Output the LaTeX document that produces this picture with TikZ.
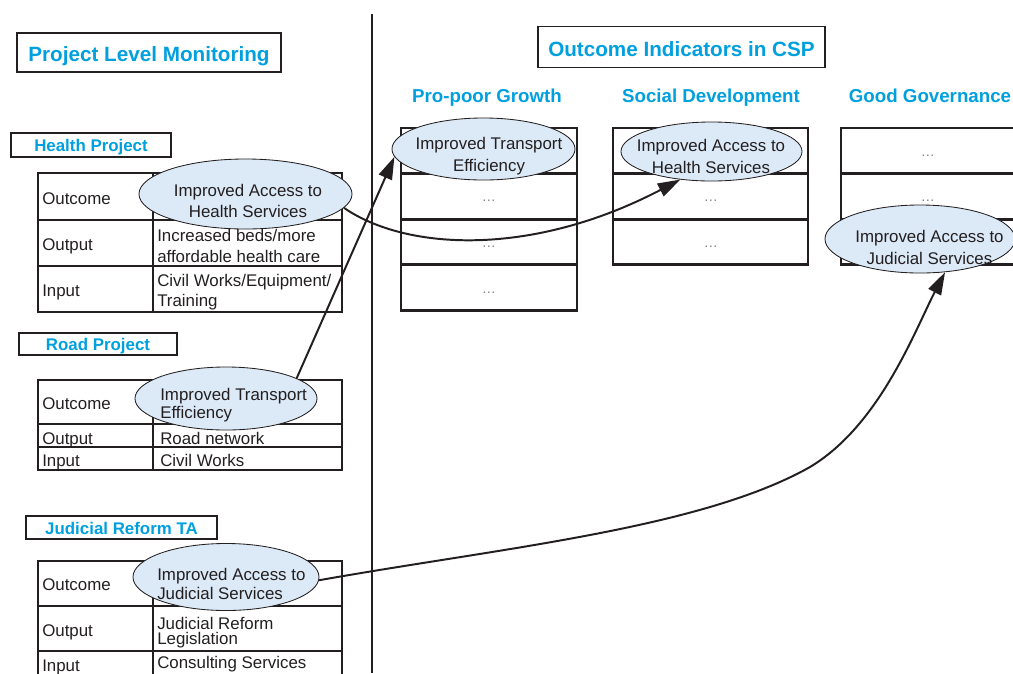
\documentclass[tikz,border=0pt]{standalone}
\usepackage{fontspec}
\setmainfont{Liberation Sans}
\usetikzlibrary{arrows.meta,shapes.geometric}
\definecolor{cspblue}{RGB}{0,160,223}
\definecolor{bubblefill}{RGB}{220,233,247}
\definecolor{ink}{RGB}{35,31,32}

\begin{document}
\begin{tikzpicture}[x=0.025cm,y=-0.025cm,
    grid/.style={draw=ink,line width=1.9pt},
    heading/.style={draw=ink,line width=1.3pt,text=cspblue,inner sep=0pt,
      text height=13pt,text depth=0pt,font=\bfseries\fontsize{14.7}{17}\selectfont},
    project/.style={heading,text height=9.5pt,font=\bfseries\fontsize{12}{14}\selectfont},
    column/.style={anchor=base,text=cspblue,font=\bfseries\fontsize{13.3}{16}\selectfont},
    cell/.style={anchor=west,align=left,inner sep=0pt,text=ink,
      font=\fontsize{12}{14.5}\selectfont},
    pending/.style={text=gray,font=\fontsize{10}{12}\selectfont},
    bubble/.style 2 args={ellipse,draw=ink,line width=0.6pt,fill=bubblefill,
      minimum width=#1,minimum height=#2,inner sep=0pt},
    say/.style={inner sep=0pt,text=ink,font=\fontsize{12}{#1}\selectfont},
    link/.style={draw=ink,line width=1.4pt,-{Triangle[length=16pt,width=10pt]}}
  ]
  \useasboundingbox (0,0) rectangle (1013,673);
  \clip (0,0) rectangle (1013,673);

  % two halves
  \draw[ink,line width=1.4pt] (372,14) -- (372,673);
  \node[heading,minimum width=6.6cm,minimum height=0.975cm] (plm) at (149,52.5) {Project Level Monitoring};
  \node[heading,minimum width=7.175cm,minimum height=1.025cm] (csp) at (681.5,47) {Outcome Indicators in CSP};

  % CSP columns
  \node[column] (growth) at (487,102) {Pro-poor Growth};
  \node[column] (social) at (711,102) {Social Development};
  \node[column] (govern) at (930,102) {Good Governance};
  \foreach \xa/\xb/\n in {401/577/4,613/808/3,841/1020/3}
    \foreach \r in {1,...,\n}
      \draw[grid] (\xa,{82.4+\r*45.6}) rectangle (\xb,{128+\r*45.6});
  \foreach \xm/\r [count=\k] in {489/2,489/3,489/4,711/2,711/3,928/1,928/2}
    \node[pending] (d\k) at (\xm,{110+\r*45.6}) {\dots};

  % health project
  \node[project,minimum width=4cm,minimum height=0.6cm] (hp) at (91,145) {Health Project};
  \foreach \ya/\yb in {173/220,220/266,266/312}
    \draw[grid] (38,\ya) rectangle (153,\yb) (153,\ya) rectangle (342,\yb);
  \node[cell] (ho) at (42,199) {Outcome};
  \node[cell] (hu) at (42,246.5) {Output};
  \node[cell] (hi) at (42,292.5) {Input};
  \node[cell,font=\fontsize{12}{14.7}\selectfont] (hu2) at (157,246) {Increased beds/more\\affordable health care};
  \node[cell,font=\fontsize{12}{14.2}\selectfont] (hi2) at (157,292) {Civil Works/Equipment/\\Training};
  \node[bubble={5.325cm}{1.75cm}] (hea) at (245.5,194) {};
  \node[say=15pt,align=center] (heat) at (248,201) {Improved Access to\\Health Services};

  % road project
  \node[project,minimum width=3.95cm,minimum height=0.55cm] (rp) at (98,344) {Road Project};
  \foreach \ya/\yb in {380/424,424/447,447/470}
    \draw[grid] (38,\ya) rectangle (153,\yb) (153,\ya) rectangle (342,\yb);
  \node[cell] (ro) at (42,404) {Outcome};
  \node[cell] (ru) at (42,440) {Output};
  \node[cell] (ri) at (42,462) {Input};
  \node[cell] (ru2) at (160,438) {Road network};
  \node[cell] (ri2) at (160,460.5) {Civil Works};
  \node[bubble={4.55cm}{1.575cm}] (road) at (226,398.5) {};
  \node[say=12.8pt,align=left,anchor=west] (roadt) at (160,405) {Improved Transport\\Efficiency};

  % judicial reform TA
  \node[project,minimum width=4.775cm,minimum height=0.575cm] (jp) at (121.5,527.5) {Judicial Reform TA};
  \foreach \ya/\yb in {561/606,606/651,651/697}
    \draw[grid] (38,\ya) rectangle (153,\yb) (153,\ya) rectangle (342,\yb);
  \node[cell] (jo) at (42,584.5) {Outcome};
  \node[cell] (ju) at (42,632.5) {Output};
  \node[cell] (ji) at (42,667.5) {Input};
  \node[cell,font=\fontsize{12}{10.5}\selectfont] (ju2) at (157,632.5) {Judicial Reform\\Legislation};
  \node[cell] (ji2) at (157,664) {Consulting Services};
  \node[bubble={4.65cm}{1.675cm}] (jud) at (226,577) {};
  \node[say=13.5pt,align=left,anchor=west] (judt) at (157,584) {Improved Access to\\Judicial Services};

  % outcomes as they appear in the CSP
  \node[bubble={4.575cm}{1.55cm}] (pro) at (483.5,149) {};
  \node[say=15.6pt,align=center] (prot) at (489,156) {Improved Transport\\Efficiency};
  \node[bubble={4.525cm}{1.475cm}] (soc) at (711.5,151.5) {};
  \node[say=15.6pt,align=center] (soct) at (711,156) {Improved Access to\\Health Services};
  \node[bubble={4.75cm}{1.7cm}] (gov) at (920,239) {};
  \node[say=15.6pt,align=center] (govt) at (929.5,247) {Improved Access to\\Judicial Services};

  \draw[link] (road.16) -- (pro.185);
  \draw[link] (hea.-8) .. controls (405,250) and (530,258) .. (soc.222);
  \draw[link] (jud.-2) .. controls (500,548) and (700,529) .. (810,467)
    .. controls (880,425) and (915,330) .. (gov.-53);
\end{tikzpicture}
\end{document}
